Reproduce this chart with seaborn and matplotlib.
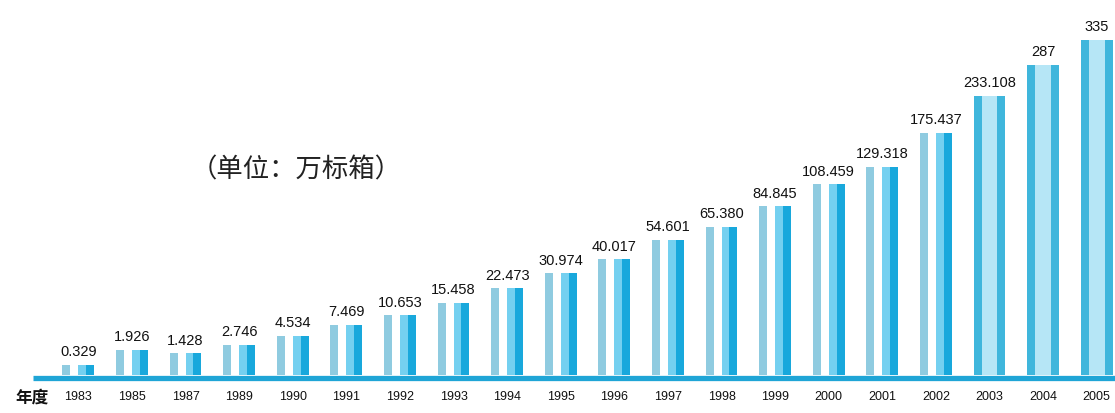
import numpy as np
import pandas as pd
import matplotlib
matplotlib.use("Agg")
import matplotlib.pyplot as plt
import seaborn as sns

# Annual output, in 10k standard boxes
years = ["1983", "1985", "1987", "1989", "1990", "1991", "1992", "1993", "1994", "1995",
         "1996", "1997", "1998", "1999", "2000", "2001", "2002", "2003", "2004", "2005"]
value_labels = ["0.329", "1.926", "1.428", "2.746", "4.534", "7.469", "10.653", "15.458",
                "22.473", "30.974", "40.017", "54.601", "65.380", "84.845", "108.459",
                "129.318", "175.437", "233.108", "287", "335"]
values = [float(s) for s in value_labels]

# each year is drawn as a striped column made of four slices
parts = ["edge", "gap", "face", "shade"]
early_colors = ["#8fcbe0", "#ffffff", "#74d0f0", "#18a8dc"]
late_years = ["2003", "2004", "2005"]
late_colors = ["#3fb6dc", "#b6e6f6", "#b6e6f6", "#3fb6dc"]
line_color = "#1fa5d6"

rows = [(y, p, v) for y, v in zip(years, values) for p in parts]
df = pd.DataFrame(rows, columns=["year", "part", "value"])
late_mask = df["year"].isin(late_years)

sns.set_theme(style="white")
plt.rcParams["font.family"] = ["Liberation Sans", "DejaVu Sans"]

W, H = 1115, 413
fig = plt.figure(figsize=(W / 100, H / 100), dpi=100)
fig.patch.set_facecolor("white")
base_px = 375
ax = fig.add_axes([0, 1 - base_px / H, 1, base_px / H])
ax.set_facecolor("white")

common = dict(x="year", y="value", hue="part", order=years, hue_order=parts,
              width=0.59, dodge=True, legend=False, saturation=1, linewidth=0,
              errorbar=None, ax=ax)
sns.barplot(data=df[~late_mask], palette=early_colors, **common)
sns.barplot(data=df[late_mask], palette=late_colors, **common)

ax.set_yscale("function",
              functions=(lambda v: np.sqrt(np.clip(v, 0, None)), lambda v: np.square(v)))
x0 = -1.461
x1 = x0 + W / 53.6
ax.set_xlim(x0, x1)
ax.set_ylim(0, 419.8)

for name in ["left", "right", "top"]:
    ax.spines[name].set_visible(False)
sp = ax.spines["bottom"]
sp.set_visible(True)
sp.set_color(line_color)
sp.set_linewidth(3.8)
sp.set_position(("outward", 1.9))
sp.set_bounds(x0 + 33 / 53.6, x1)
sp.set_capstyle("butt")

ax.set_yticks([])
ax.set_xticks(range(len(years)))
ax.set_xticklabels(years, fontsize=9, color="#111111")
ax.tick_params(axis="x", length=0, pad=9.5)
ax.set_xlabel("")
ax.set_ylabel("")

for i, (lab, v) in enumerate(zip(value_labels, values)):
    ax.annotate(lab, xy=(i, v), xytext=(0, 4), textcoords="offset points",
                ha="center", va="bottom", fontsize=10.5, color="#111111")

fig.text(32 / W, 1 - 398 / H, "年度", ha="center", va="center", fontsize=12,
         fontweight="bold", family=["Noto Sans CJK SC", "DejaVu Sans"], color="#111111")
fig.text(296 / W, 1 - 170 / H, "（单位：万标箱）", ha="center", va="center", fontsize=19,
         fontweight="light", family=["Noto Sans CJK SC", "DejaVu Sans"], color="#222222")

fig.savefig("out.png", dpi=100, facecolor="white")
